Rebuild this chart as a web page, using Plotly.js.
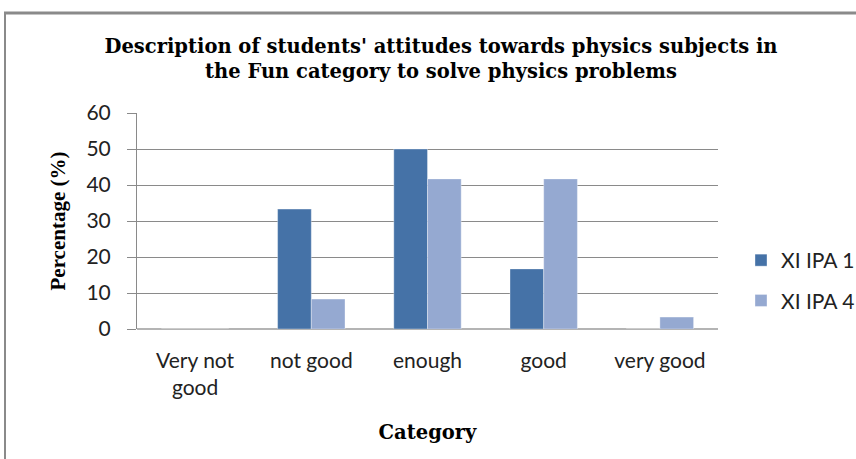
<!DOCTYPE html>
<html>
<head>
<meta charset="utf-8">
<script src="https://cdn.plot.ly/plotly-3.0.1.min.js"></script>
<style>html,body{margin:0;padding:0;background:#fff;}#chart{width:856px;height:459px;}</style>
</head>
<body>
<div id="chart"></div>
<script>
const categories = ["Very not<br>good", "not good", "enough", "good", "very good"];
const seriesNames = ["XI IPA 1", "XI IPA 4"];
const ipa1 = [0, 33.3, 50, 16.7, 0];
const ipa4 = [0, 8.3, 41.7, 41.7, 3.3];
const yTicks = [0, 10, 20, 30, 40, 50, 60];

const W = 856, H = 459;
const m = {l: 137, r: 138, t: 113, b: 130};
const pw = W - m.l - m.r, ph = H - m.t - m.b;
function px(x){ return (x - m.l) / pw; }
function py(y){ return (H - m.b - y) / ph; }

const traces = [
  {type: 'bar', name: seriesNames[0], x: categories, y: ipa1, legendgroup: 'a',
   marker: {color: '#4572A7', line: {color: 'rgba(255,255,255,0.35)', width: 1}}},
  {type: 'bar', name: seriesNames[1], x: categories, y: ipa4, legendgroup: 'b',
   marker: {color: '#95A9D1', line: {color: 'rgba(255,255,255,0.35)', width: 1}}}
];

const sans = 'Lato, "Liberation Sans", sans-serif';
const serif = '"DejaVu Serif", "Liberation Serif", serif';
const times = '"Liberation Serif", serif';

const layout = {
  width: W, height: H,
  margin: m,
  paper_bgcolor: '#fff', plot_bgcolor: '#fff',
  barmode: 'group', bargap: 0.42, bargroupgap: 0,
  showlegend: true,
  legend: {xref: 'container', yref: 'container', x: 741 / W, y: 1 - 240 / H, xanchor: 'left', yanchor: 'top',
    font: {family: sans, size: 21, color: '#222'},
    traceorder: 'grouped', tracegroupgap: 10, itemwidth: 30, bgcolor: 'rgba(0,0,0,0)'},
  title: {text: "Description of students' attitudes towards physics subjects in<br>the Fun category to solve physics problems",
    x: 441 / W, xref: 'container', xanchor: 'center', y: 1 - 53/H, yref: 'container', yanchor: 'top',
    font: {family: serif, size: 19.5, color: '#000', weight: 'bold'}},
  xaxis: {
    type: 'category', tickvals: categories, ticktext: categories,
    showgrid: false, zeroline: false, showline: false, automargin: false,
    ticks: '', ticklabelstandoff: 17,
    tickfont: {family: sans, size: 21, color: '#222'},
    title: {text: 'Category', standoff: 27,
      font: {family: serif, size: 19.5, color: '#000', weight: 'bold'}}
  },
  yaxis: {
    range: [0, 60], tickvals: yTicks, showgrid: true, gridcolor: '#8a8a8a', gridwidth: 1,
    zeroline: true, zerolinecolor: '#b4b4b4', zerolinewidth: 2, automargin: false,
    showline: true, linecolor: '#8a8a8a', linewidth: 1,
    ticks: 'outside', ticklen: 9, tickcolor: '#8a8a8a', ticklabelstandoff: 12,
    tickfont: {family: sans, size: 21, color: '#222'},
    title: {text: 'Percentage (%)', standoff: 15,
      font: {family: times, size: 21, color: '#000', weight: 'bold'}}
  },
  shapes: [
    {type: 'line', xref: 'paper', yref: 'paper', x0: px(5), x1: px(5), y0: py(480), y1: py(12),
     line: {color: '#8a8a8a', width: 2}, layer: 'above'},
    {type: 'line', xref: 'paper', yref: 'paper', x0: px(4), x1: px(860), y0: py(13), y1: py(13),
     line: {color: '#8a8a8a', width: 3}, layer: 'above'}
  ]
};

Plotly.newPlot('chart', traces, layout, {displayModeBar: false, staticPlot: true});
</script>
</body>
</html>
